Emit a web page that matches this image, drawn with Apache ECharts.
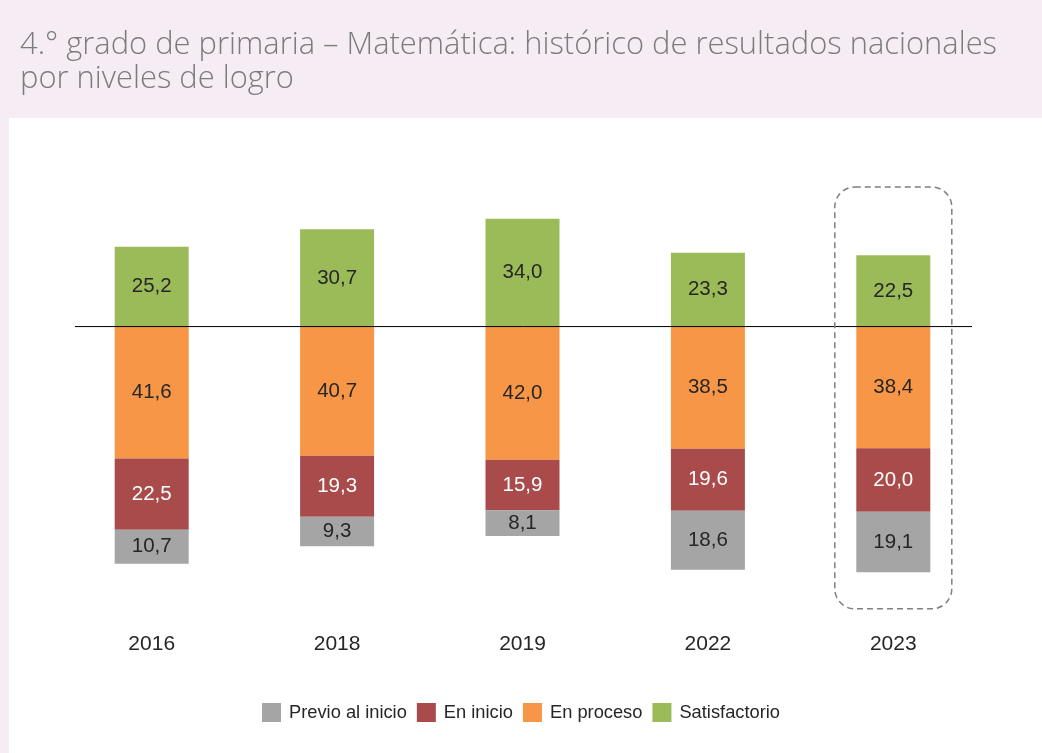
<!DOCTYPE html>
<html>
<head>
<meta charset="utf-8">
<style>
  html, body { margin: 0; padding: 0; background: #F6ECF3; }
  #panel { position: absolute; left: 9px; top: 118px; right: 0; bottom: 0; background: #ffffff; }
  #chart { position: absolute; left: 0; top: 0; width: 1042px; height: 753px; }
</style>
<script src="https://cdn.jsdelivr.net/npm/echarts@6/dist/echarts.min.js"></script>
</head>
<body>
<div id="panel"></div>
<div id="chart"></div>
<script>
const titleText = '4.° grado de primaria – Matemática: histórico de resultados nacionales\npor niveles de logro';
const categories = ['2016', '2018', '2019', '2022', '2023'];
const previoAlInicio = [10.7, 9.3, 8.1, 18.6, 19.1];
const enInicio = [22.5, 19.3, 15.9, 19.6, 20.0];
const enProceso = [41.6, 40.7, 42.0, 38.5, 38.4];
const satisfactorio = [25.2, 30.7, 34.0, 23.3, 22.5];
const legendNames = ['Previo al inicio', 'En inicio', 'En proceso', 'Satisfactorio'];
const highlightCategory = '2023';

const chart = echarts.init(document.getElementById('chart'), null, { renderer: 'canvas' });

const fmt = p => Math.abs(p.value).toFixed(1).replace('.', ',');
function lbl(color) {
  return { show: true, position: 'inside', formatter: fmt, color: color,
           fontFamily: 'Liberation Sans, Arial, sans-serif', fontSize: 20.5 };
}
function bar(name, data, color, labelColor, neg) {
  return {
    name: name, type: 'bar', stack: 'total', barWidth: 74,
    data: data.map(v => neg ? -v : v),
    itemStyle: { color: color },
    label: lbl(labelColor),
    emphasis: { disabled: true }
  };
}

chart.setOption({
  animation: false,
  backgroundColor: 'transparent',
  title: {
    text: titleText, left: 15, top: 23,
    textStyle: { fontFamily: 'Open Sans, sans-serif', fontWeight: 300, fontSize: 30.9, color: '#7c7c7c', lineHeight: 34 }
  },
  legend: {
    data: legendNames, bottom: 26, left: 'center',
    itemWidth: 19, itemHeight: 19, itemGap: 10, icon: 'rect',
    textStyle: { fontFamily: 'Liberation Sans, Arial, sans-serif', fontSize: 18.3, color: '#262626', padding: [0,0,0,3] }
  },
  grid: { left: 59, right: 56, top: 168, height: 444, containLabel: false },
  xAxis: {
    type: 'category', data: categories, position: 'bottom',
    axisLine: { show: false }, axisTick: { show: false },
    axisLabel: { fontFamily: 'Liberation Sans, Arial, sans-serif', fontSize: 21, color: '#262626', margin: 22 }
  },
  yAxis: {
    type: 'value', min: -90, max: 50, interval: 10,
    show: false, splitLine: { show: false }
  },
  series: [
    bar('En proceso', enProceso, '#F79646', '#262626', true),
    bar('En inicio', enInicio, '#A94A4B', '#ffffff', true),
    bar('Previo al inicio', previoAlInicio, '#A5A5A5', '#262626', true),
    bar('Satisfactorio', satisfactorio, '#9BBB59', '#262626', false)
  ]
});

function drawExtras() {
  const grid = chart.getModel().getComponent('grid').coordinateSystem.getRect();
  const zeroY = chart.convertToPixel({ yAxisIndex: 0 }, 0);
  const cx = chart.convertToPixel({ xAxisIndex: 0 }, highlightCategory);
  const topY = chart.convertToPixel({ yAxisIndex: 0 }, 44);
  const botY = chart.convertToPixel({ yAxisIndex: 0 }, -89);
  const half = 58.5;
  chart.setOption({
    graphic: [
      { type: 'line', shape: { x1: grid.x + 16, y1: zeroY, x2: grid.x + grid.width - 14, y2: zeroY },
        style: { stroke: '#000000', lineWidth: 1 }, z: 10 },
      { type: 'rect', shape: { x: cx - half, y: topY, width: half * 2, height: botY - topY, r: 20 },
        style: { fill: null, stroke: '#7f7f7f', lineWidth: 1.5, lineDash: [6, 4] }, z: 10 }
    ]
  });
}
drawExtras();
</script>
</body>
</html>
